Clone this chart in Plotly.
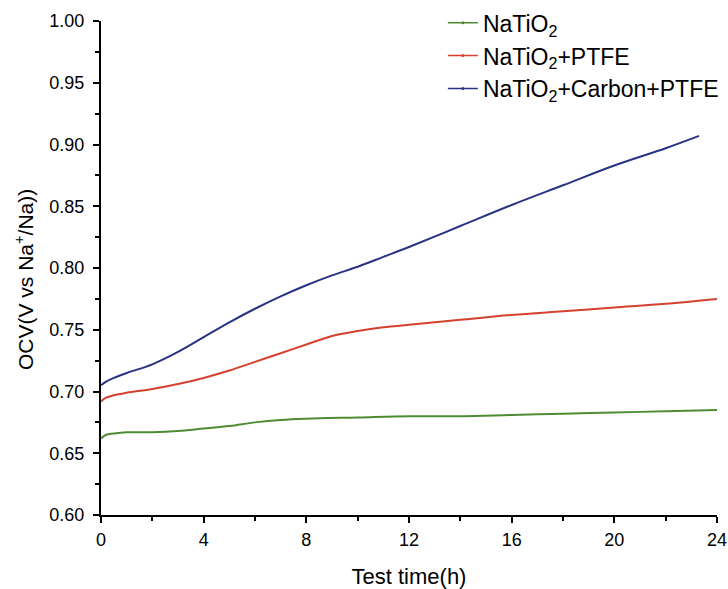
import plotly.graph_objects as go

# Test time (h)
t_green = [0, 0.2, 0.5, 1, 2, 3, 4, 5, 6, 7, 8, 10, 12, 14, 16, 18, 20, 22, 24]
v_green = [0.662, 0.665, 0.666, 0.667, 0.667, 0.668, 0.670, 0.672, 0.675, 0.677, 0.678,
           0.679, 0.680, 0.680, 0.681, 0.682, 0.683, 0.684, 0.685]

t_red = [0, 0.2, 0.5, 1, 2, 3, 4, 5, 6, 7, 8, 9, 10, 11, 12, 14, 16, 18, 20, 22, 24]
v_red = [0.692, 0.695, 0.697, 0.699, 0.702, 0.706, 0.711, 0.717, 0.724, 0.731, 0.738,
         0.745, 0.749, 0.752, 0.754, 0.758, 0.762, 0.765, 0.768, 0.771, 0.775]

t_blue = [0, 0.2, 0.5, 1, 2, 3, 4, 5, 6, 7, 8, 9, 10, 11, 12, 14, 16, 18, 20, 22, 23.3]
v_blue = [0.705, 0.708, 0.711, 0.715, 0.722, 0.732, 0.744, 0.756, 0.767, 0.777, 0.786,
          0.794, 0.801, 0.809, 0.817, 0.834, 0.851, 0.867, 0.883, 0.897, 0.907]

names = ["NaTiO<sub>2</sub>", "NaTiO<sub>2</sub>+PTFE", "NaTiO<sub>2</sub>+Carbon+PTFE"]
colors = ["#4e8c34", "#d4412d", "#2a3383"]

x_ticks = [0, 4, 8, 12, 16, 20, 24]
y_ticks = [0.60, 0.65, 0.70, 0.75, 0.80, 0.85, 0.90, 0.95, 1.00]

FONT = "Liberation Sans, Arial"

fig = go.Figure()
series = [(t_green, v_green), (t_red, v_red), (t_blue, v_blue)]
for (t, v), n, c in zip(series, names, colors):
    fig.add_trace(go.Scatter(x=t, y=v, mode="lines", line=dict(color=c, width=2, shape="spline"),
                             showlegend=False))
for n, c in zip(names, colors):
    fig.add_trace(go.Scatter(x=[None], y=[None], mode="lines+markers", name=n,
                             line=dict(color=c, width=1.5), marker=dict(color=c, size=3),
                             legendgroup=n))

axis_common = dict(showline=True, linecolor="black", linewidth=2, ticks="outside",
                   ticklen=6, tickwidth=2, tickcolor="black", showgrid=False, zeroline=False,
                   tickfont=dict(family=FONT, size=18, color="black"))

fig.update_xaxes(range=[0, 24], tickvals=x_ticks, ticktext=[str(v) for v in x_ticks],
                 minor=dict(dtick=2, ticklen=4, tickwidth=2, tickcolor="black", ticks="outside"),
                 ticklabelstandoff=1,
                 title=dict(text="Test time(h)", font=dict(family=FONT, size=22, color="black"),
                            standoff=20),
                 **axis_common)
fig.update_yaxes(range=[0.60, 1.00], tickvals=y_ticks, ticktext=[f"{v:.2f}" for v in y_ticks],
                 minor=dict(dtick=0.025, ticklen=4, tickwidth=2, tickcolor="black", ticks="outside"),
                 ticklabelstandoff=5,
                 **axis_common)

fig.add_annotation(text="OCV(V vs Na<sup>+</sup>/Na))", textangle=-90, showarrow=False,
                   xref="paper", yref="paper", x=(24 - 101) / 616, y=(515 - 280) / 494,
                   xanchor="center", yanchor="middle",
                   font=dict(family=FONT, size=21, color="black"))

fig.update_layout(
    width=728, height=589,
    margin=dict(l=101, r=11, t=21, b=74, autoexpand=False),
    plot_bgcolor="white", paper_bgcolor="white",
    legend=dict(x=0.555, y=1.04, xanchor="left", yanchor="top", bgcolor="rgba(0,0,0,0)",
                font=dict(family=FONT, size=23, color="black"),
                traceorder="grouped", tracegroupgap=0),
)

fig.write_html("out.html")
